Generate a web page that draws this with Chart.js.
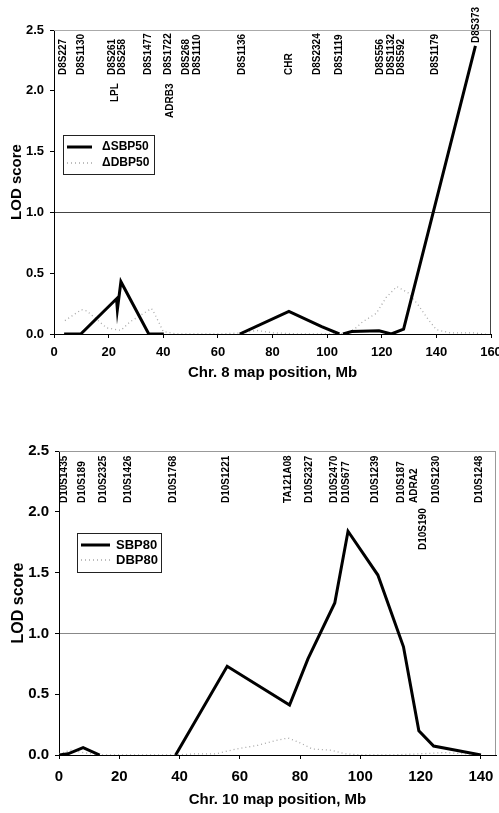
<!DOCTYPE html>
<html>
<head>
<meta charset="utf-8">
<script src="https://cdn.jsdelivr.net/npm/chart.js@4.4.0/dist/chart.umd.min.js"></script>
<style>
  body { margin: 0; background: #fff; }
  canvas { position: absolute; left: 0; }
  #chr8 { top: 0; }
  #chr10 { top: 390px; }
</style>
</head>
<body>
<canvas id="chr8" width="499" height="390"></canvas>
<canvas id="chr10" width="499" height="423"></canvas>
<script>
// Chromosome 8 - map position (Mb) and LOD score
const sbp50Pos = [3.7, 9.8, 22.9, 23.2, 24.5, 34.7, 40.2, 55, 68, 86, 98, 104.5, 105.2, 105.8, 109, 119, 123.5, 128, 154.3];
const sbp50Lod = [0, 0, 0.29, 0.2, 0.43, 0, 0, null, 0, 0.185, 0.06, 0, null, 0, 0.02, 0.027, 0, 0.04, 2.37];
const dbp50Pos = [4, 10, 12, 19.3, 24.5, 27.8, 35.7, 37, 40, 45, 53, 60, 70, 74, 80, 90, 100, 106, 110, 113, 118, 121.6, 125.5, 129.6, 133.3, 137, 140, 145, 153, 158];
const dbp50Lod = [0.11, 0.2, 0.19, 0.05, 0.03, 0.1, 0.21, 0.16, 0.02, 0, 0, 0, 0.01, 0.03, 0.01, 0, 0, 0, 0.04, 0.1, 0.17, 0.3, 0.39, 0.34, 0.24, 0.12, 0.035, 0.01, 0.01, 0];
const chr8Markers = ['D8S227', 'D8S1130', 'D8S261', 'D8S258', 'LPL', 'D8S1477', 'D8S1722', 'ADRB3', 'D8S268', 'D8S1110',
  'D8S1136', 'CHR', 'D8S2324', 'D8S1119', 'D8S556', 'D8S1132', 'D8S592', 'D8S1179', 'D8S373'];
const chr8MarkerPos = [3.3, 9.9, 21.3, 25.0, 22.3, 34.5, 41.8, 42.6, 48.6, 52.6, 68.8, 86, 96.5, 104.3, 119.6, 123.5, 127.3, 139.5, 154.5];

// Chromosome 10
const sbp80Pos = [0, 3, 8, 13.5, 25, 38.7, 55.8, 76.5, 82.6, 91.5, 95.9, 105.8, 114.3, 119.4, 124.3, 140];
const sbp80Lod = [0, 0.01, 0.06, 0, null, 0, 0.73, 0.41, 0.79, 1.25, 1.84, 1.48, 0.89, 0.2, 0.074, 0];
const dbp80Pos = [0, 4, 8, 14, 20, 30, 38, 46, 52, 59, 66, 72, 76, 80, 84, 90, 95, 100, 110, 120, 128, 135, 140];
const dbp80Lod = [0.01, 0.04, 0.02, 0, 0, 0, 0, 0.01, 0.01, 0.05, 0.08, 0.12, 0.14, 0.1, 0.05, 0.04, 0.01, 0, 0, 0.01, 0.02, 0.01, 0];
const chr10Markers = ['D10S1435', 'D10S189', 'D10S2325', 'D10S1426', 'D10S1768', 'D10S1221', 'TA121A08', 'D10S2327',
  'D10S2470', 'D10S677', 'D10S1239', 'D10S187', 'ADRA2', 'D10S190', 'D10S1230', 'D10S1248'];
const chr10MarkerPos = [1.9, 7.8, 14.6, 22.9, 37.8, 55.5, 76, 82.9, 91.4, 95.3, 105, 113.5, 118, 120.7, 125.1, 139.5];

const FONT = "'Liberation Sans', Arial, sans-serif";

function pts(pos, lod) {
  return pos.map((x, i) => ({ x: x, y: lod[i] }));
}

// vertical marker names along the top of the plot
const markerLabels = {
  id: 'markerLabels',
  afterDatasetsDraw(chart, args, opts) {
    const ctx = chart.ctx;
    const xs = chart.scales.x;
    ctx.save();
    ctx.font = 'bold 10px ' + FONT;
    ctx.fillStyle = '#000';
    ctx.textAlign = 'left';
    ctx.textBaseline = 'middle';
    opts.names.forEach((name, i) => {
      const px = xs.getPixelForValue(opts.pos[i]);
      const py = chart.chartArea.top + opts.base + (opts.drop[name] || 0);
      ctx.save();
      ctx.translate(px, py);
      ctx.rotate(-Math.PI / 2);
      ctx.fillText(name, 0, 0);
      ctx.restore();
    });
    ctx.restore();
  }
};

// boxed legend inside the plot
const boxLegend = {
  id: 'boxLegend',
  afterDraw(chart, args, opts) {
    const ctx = chart.ctx;
    const bx = chart.chartArea.left + opts.x;
    const by = chart.chartArea.top + opts.y;
    ctx.save();
    ctx.fillStyle = '#fff';
    ctx.fillRect(bx, by, opts.w, opts.h);
    ctx.strokeStyle = '#222';
    ctx.lineWidth = 1;
    ctx.strokeRect(bx + 0.5, by + 0.5, opts.w, opts.h);
    chart.data.datasets.forEach((ds, i) => {
      const ly = by + opts.rows[i];
      ctx.strokeStyle = ds.borderColor;
      ctx.lineWidth = ds.borderWidth;
      ctx.setLineDash(ds.borderDash || []);
      ctx.beginPath();
      ctx.moveTo(bx + opts.line[0], ly);
      ctx.lineTo(bx + opts.line[1], ly);
      ctx.stroke();
      ctx.setLineDash([]);
      ctx.fillStyle = '#000';
      ctx.font = opts.font;
      ctx.textBaseline = 'middle';
      ctx.fillText(ds.label, bx + opts.textX, ly);
    });
    ctx.restore();
  }
};

// top and right border of the plot
const frame = {
  id: 'frame',
  afterDraw(chart, args, opts) {
    const ctx = chart.ctx;
    const a = chart.chartArea;
    ctx.save();
    ctx.lineWidth = 1;
    ctx.strokeStyle = opts.top;
    ctx.beginPath();
    ctx.moveTo(a.left, a.top + 0.5);
    ctx.lineTo(a.right, a.top + 0.5);
    ctx.stroke();
    ctx.strokeStyle = opts.right;
    ctx.beginPath();
    ctx.moveTo(a.right - 0.5, a.top);
    ctx.lineTo(a.right - 0.5, a.bottom);
    ctx.stroke();
    ctx.restore();
  }
};

function lodChart(id, c) {
  return new Chart(document.getElementById(id), {
    type: 'line',
    data: {
      datasets: [
        { label: c.labels[0], data: c.sbp, borderColor: '#000', borderWidth: 3, pointRadius: 0, tension: 0, spanGaps: false },
        { label: c.labels[1], data: c.dbp, borderColor: '#a8a8a8', borderWidth: 1.3, borderDash: [1, 3], pointRadius: 0, tension: 0 }
      ]
    },
    options: {
      responsive: false,
      animation: false,
      devicePixelRatio: 1,
      layout: { padding: { top: c.padTop, right: c.padRight, left: 0, bottom: 0 } },
      plugins: {
        legend: { display: false },
        tooltip: { enabled: false },
        markerLabels: { names: c.markers, pos: c.markerPos, base: c.labelBase, drop: c.drop },
        boxLegend: c.legend,
        frame: c.frame
      },
      scales: {
        x: {
          type: 'linear', min: 0, max: c.xMax,
          afterFit: s => { s.height = c.xH; s.paddingLeft = 0; s.paddingRight = 0; },
          ticks: { stepSize: 20, includeBounds: false, padding: c.xTickPad, color: '#000', font: { family: FONT, size: c.tickSize, weight: 'bold' } },
          grid: { drawOnChartArea: false, tickLength: 4, tickColor: '#000' },
          border: { color: '#000', width: 1 },
          title: { display: true, text: c.xTitle, color: '#000', font: { family: FONT, size: 15, weight: 'bold' }, padding: { top: 0, bottom: c.xTitlePad } }
        },
        y: {
          min: 0, max: 2.5,
          afterFit: s => { s.width = c.yW; s.paddingTop = 0; s.paddingBottom = 0; },
          ticks: { stepSize: 0.5, padding: 6, color: '#000', font: { family: FONT, size: c.tickSize, weight: 'bold' }, callback: v => v.toFixed(1) },
          grid: { tickLength: 4, tickColor: '#000', lineWidth: 1, color: g => (g.tick && g.tick.value === 1 ? c.threshold : 'rgba(0,0,0,0)') },
          border: { color: '#000', width: 1 },
          title: { display: true, text: 'LOD score', color: '#000', font: { family: FONT, size: c.yTitleSize, weight: 'bold' }, padding: { top: c.yTitlePad, bottom: 0 } }
        }
      }
    },
    plugins: [markerLabels, boxLegend, frame]
  });
}

lodChart('chr8', {
  labels: ['\u0394SBP50', '\u0394DBP50'],
  sbp: pts(sbp50Pos, sbp50Lod),
  dbp: pts(dbp50Pos, dbp50Lod),
  markers: chr8Markers, markerPos: chr8MarkerPos,
  labelBase: 45, drop: { LPL: 27, ADRB3: 43, D8S373: -32 },
  xMax: 160, xTitle: 'Chr. 8 map position, Mb',
  padTop: 30, padRight: 8, xH: 56, yW: 54,
  tickSize: 13, xTickPad: 7, xTitlePad: 8, yTitleSize: 15, yTitlePad: 8,
  threshold: '#444',
  legend: { x: 9, y: 105, w: 91, h: 39, rows: [12, 28], line: [4, 29], textX: 39, font: 'bold 12px ' + FONT },
  frame: { top: '#aaa', right: '#444' }
});

lodChart('chr10', {
  labels: ['SBP80', 'DBP80'],
  sbp: pts(sbp80Pos, sbp80Lod),
  dbp: pts(dbp80Pos, dbp80Lod),
  markers: chr10Markers, markerPos: chr10MarkerPos,
  labelBase: 52, drop: { D10S190: 47 },
  xMax: 145, xTitle: 'Chr. 10 map position, Mb',
  padTop: 61, padRight: 3, xH: 58, yW: 59,
  tickSize: 15, xTickPad: 9, xTitlePad: 4, yTitleSize: 16, yTitlePad: 9,
  threshold: '#888',
  legend: { x: 18, y: 82, w: 84, h: 39, rows: [12, 27], line: [4, 33], textX: 39, font: 'bold 13px ' + FONT },
  frame: { top: '#999', right: '#999' }
});
</script>
</body>
</html>
